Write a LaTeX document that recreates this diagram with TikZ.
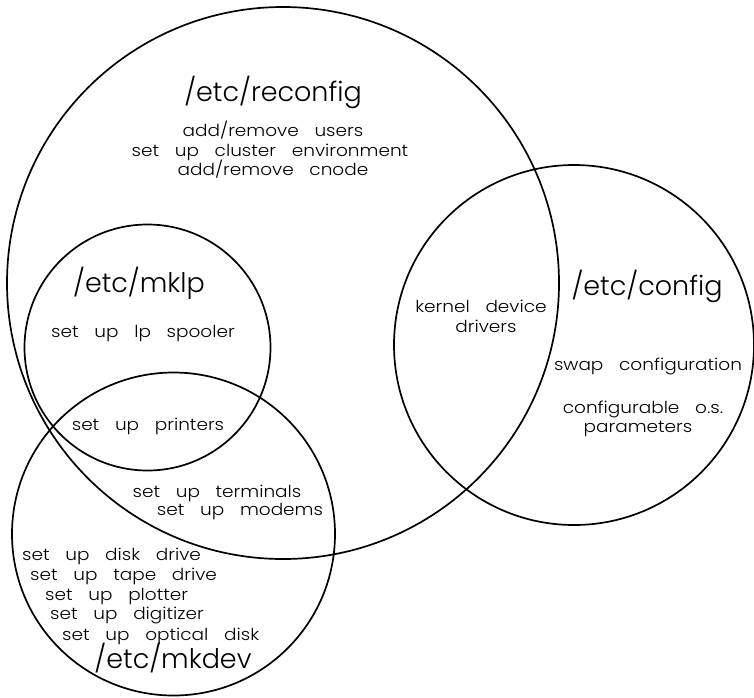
\documentclass[tikz,border=0pt]{standalone}
\usepackage{fontspec}
\setmainfont{Poppins}[UprightFont={* Light},WordSpace=2.2]
\newfontfamily\itemfont{Poppins}[UprightFont={* Light},WordSpace=3.1,FakeStretch=1.12]
\begin{document}
\begin{tikzpicture}[x=1pt,y=-1pt,
  setline/.style={line width=1.7pt},
  title/.style={inner sep=0pt,font=\fontsize{27}{30}\selectfont},
  item/.style={inner sep=0pt,font=\itemfont\fontsize{16.5}{20}\selectfont}]
\useasboundingbox (0,0) rectangle (754,697);
% the four command circles
\draw[setline] (283,283) circle [radius=276];
\draw[setline] (574,345) circle [radius=180];
\draw[setline] (147.5,347.5) circle [radius=123];
\draw[setline] (173.5,534) circle [radius=161.5];
% /etc/reconfig
\node[title,anchor=base] (reconfig) at (273,101) {/etc/reconfig};
\node[item,anchor=base] (users) at (273,136) {add/remove users};
\node[item,anchor=base] (cluster) at (270,156) {set up cluster environment};
\node[item,anchor=base] (cnode) at (273,175) {add/remove cnode};
% /etc/mklp
\node[title,anchor=base] (mklp) at (139,292) {/etc/mklp};
\node[item,anchor=base] (spooler) at (143,337) {set up lp spooler};
\node[item,anchor=base] (printers) at (148,430) {set up printers};
% shared by reconfig and mkdev
\node[item,anchor=base] (terminals) at (217,497) {set up terminals};
\node[item,anchor=base] (modems) at (240,515) {set up modems};
% /etc/mkdev
\node[item,anchor=base west] (disk) at (22,560) {set up disk drive};
\node[item,anchor=base west] (tape) at (30,580) {set up tape drive};
\node[item,anchor=base west] (plotter) at (45,600) {set up plotter};
\node[item,anchor=base west] (digitizer) at (50,619) {set up digitizer};
\node[item,anchor=base west] (optical) at (62,640) {set up optical disk};
\node[title,anchor=base] (mkdev) at (173,668) {/etc/mkdev};
% shared by reconfig and config
\node[item,anchor=base] (kernel) at (481,312) {kernel device};
\node[item,anchor=base] (drivers) at (486,332) {drivers};
% /etc/config
\node[title,anchor=base] (config) at (647,295) {/etc/config};
\node[item,anchor=base] (swap) at (648,370) {swap configuration};
\node[item,anchor=base] (osparams) at (643,413) {configurable o.s.};
\node[item,anchor=base] (params) at (638,432) {parameters};
\end{tikzpicture}
\end{document}
